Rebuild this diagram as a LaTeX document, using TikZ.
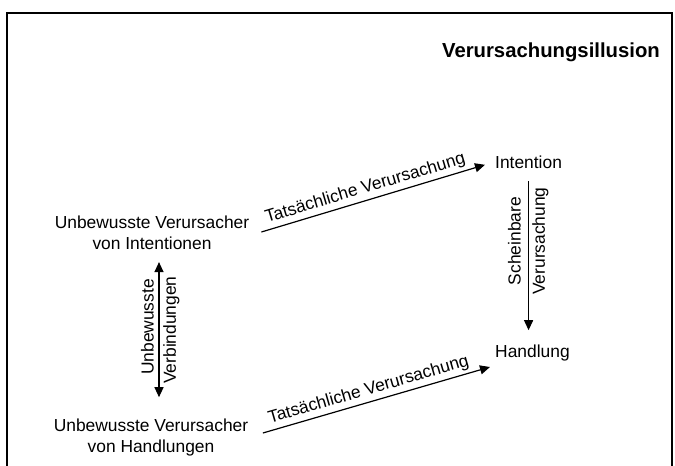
\documentclass[tikz,border=0pt]{standalone}
\usepackage{fontspec}
\setmainfont{Liberation Sans}
\usetikzlibrary{arrows.meta}
\begin{document}
\begin{tikzpicture}[x=1pt,y=-1pt,
  txt/.style={inner sep=0pt, align=center, font=\fontsize{17.4}{21}\selectfont},
  lbl/.style={inner sep=0pt, font=\fontsize{17.4}{21}\selectfont},
  ttl/.style={inner sep=0pt, font=\fontsize{20.3}{24}\selectfont\bfseries},
  arr/.style={line width=1.2pt, -{Triangle[length=10pt,width=9pt]}},
  darr/.style={line width=1.2pt, {Triangle[length=10pt,width=9pt]}-{Triangle[length=10pt,width=9pt]}},
  frame/.style={line width=1.4pt}]
\useasboundingbox (0,0) rectangle (675,466);
\draw[frame] (7,466) -- (7,13) -- (672,13) -- (672,466);
\node[ttl, anchor=base east] (title) at (660,57) {Verursachungsillusion};
\node[txt] (uvi) at (152,233) {Unbewusste Verursacher\\von Intentionen};
\node[txt] (uvh) at (151,437) {Unbewusste Verursacher\\von Handlungen};
\node[txt, anchor=base west] (int) at (495,168) {Intention};
\node[txt, anchor=base west] (hand) at (495,357) {Handlung};
\draw[arr] ([shift={(12,-1)}]uvi.east) -- ([shift={(-10,3)}]int.west)
  node[pos=0.48, sloped, above, lbl, inner sep=3pt] {Tatsächliche Verursachung};
\draw[arr] ([shift={(14.5,-4)}]uvh.east) -- ([shift={(-5,14.5)}]hand.west)
  node[pos=0.48, sloped, above, lbl, inner sep=3pt] {Tatsächliche Verursachung};
\draw[arr] ([yshift=-13pt]int.south) -- ([yshift=14pt]int.south |- hand.north);
\draw[darr] ([shift={(7,12)}]uvi.south) -- ([shift={(8,-21)}]uvh.north);
\node[lbl, rotate=90, anchor=south] (sch) at (521,241) {Scheinbare};
\node[lbl, rotate=90, anchor=north] (ver) at (532,241) {Verursachung};
\node[lbl, rotate=90, anchor=south] (unb) at (154,327) {Unbewusste};
\node[lbl, rotate=90, anchor=north] (verb) at (163,330) {Verbindungen};
\end{tikzpicture}
\end{document}
